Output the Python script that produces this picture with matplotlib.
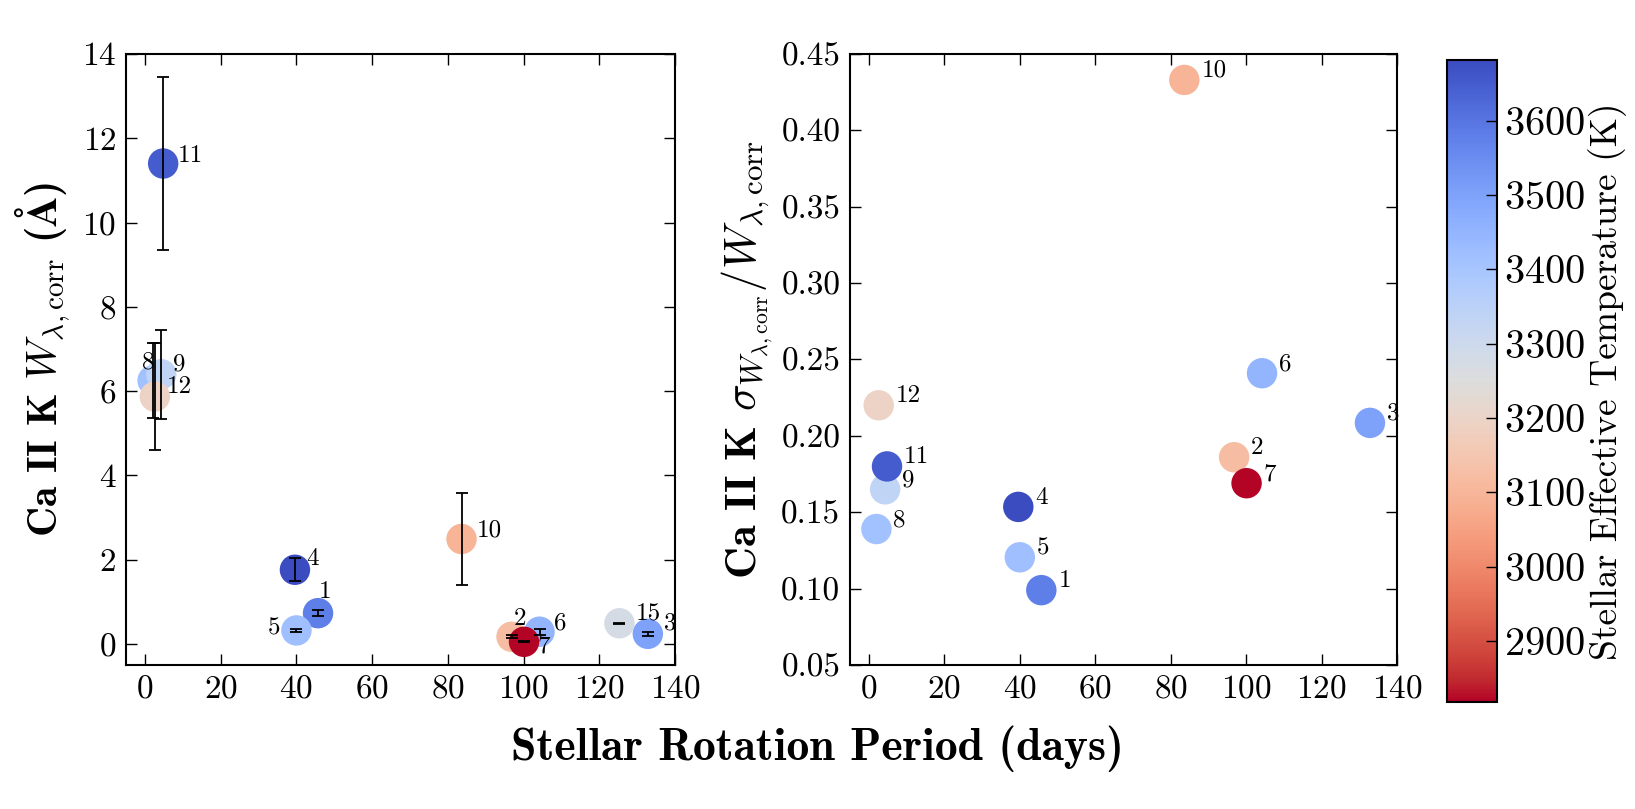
import numpy as np
import matplotlib
matplotlib.use("Agg")
import matplotlib.pyplot as plt
from matplotlib.ticker import FormatStrFormatter, MultipleLocator

plt.rcParams['font.family'] = 'serif'
plt.rcParams['font.serif'] = ['cmr10']
plt.rcParams['mathtext.fontset'] = 'cm'
plt.rcParams['axes.formatter.use_mathtext'] = True
plt.rcParams['axes.unicode_minus'] = False

# star data
star_id = ['1', '2', '3', '4', '5', '6', '7', '8', '9', '10', '11', '12', '15']
period = [45.7, 96.8, 132.8, 39.6, 40.0, 104.2, 100.1, 2.0, 4.3, 83.6, 4.8, 2.6, 125.3]
w_corr = [0.73, 0.17, 0.24, 1.76, 0.32, 0.29, 0.05, 6.25, 6.40, 2.49, 11.40, 5.87, 0.49]
w_err = [0.07, 0.03, 0.05, 0.27, 0.04, 0.07, 0.01, 0.88, 1.06, 1.08, 2.05, 1.27, 0.01]
ratio = [0.099, 0.186, 0.2085, 0.1535, 0.1205, 0.241, 0.169, 0.139, 0.165, 0.433, 0.180, 0.220, np.nan]
teff = [3580, 3120, 3500, 3682, 3420, 3450, 2818, 3415, 3335, 3095, 3650, 3195, 3276]

# label offsets in pixels (dx, dy), left panel
left_offsets = {'1': (7, 21), '2': (8, 18), '3': (22, 10), '4': (18, 11), '5': (-22, 2),
                '6': (21, 8), '7': (20, -5), '8': (-4, 18), '9': (18, 10), '10': (28, 9),
                '11': (27, 8), '12': (24, 10), '15': (29, 10)}

cmap = plt.get_cmap('coolwarm_r')
vmin, vmax = min(teff), max(teff)

fig = plt.figure(figsize=(16.35, 8.09), dpi=100)
ax1 = fig.add_axes([0.0771, 0.178, 0.3358, 0.7553])
ax2 = fig.add_axes([0.5199, 0.178, 0.3346, 0.7553])
cax = fig.add_axes([0.885, 0.1323, 0.0306, 0.7936])

# left: equivalent width with errors
sc = ax1.scatter(period, w_corr, c=teff, cmap=cmap, vmin=vmin, vmax=vmax,
                 s=480, linewidths=0, zorder=2)
ax1.errorbar(period, w_corr, yerr=w_err, fmt='none', ecolor='black',
             elinewidth=1.3, capsize=4, capthick=1.3, zorder=3)
for i, sid in enumerate(star_id):
    dx, dy = left_offsets[sid]
    ax1.annotate(sid, (period[i], w_corr[i]), xytext=(dx, dy), textcoords='offset pixels',
                 ha='center', va='center', fontsize=18, zorder=4)

ax1.set_xlim(-5, 140)
ax1.set_ylim(-0.5, 14)
ax1.xaxis.set_major_locator(MultipleLocator(20))
ax1.yaxis.set_major_locator(MultipleLocator(2))
ax1.set_ylabel(r'Ca II K $W_{\lambda,\mathrm{corr}}$ ($\mathbf{\AA}$)',
               fontsize=30, family=['cmb10', 'DejaVu Serif'], labelpad=7)

# right: fractional error
ax2.scatter(period, ratio, c=teff, cmap=cmap, vmin=vmin, vmax=vmax,
            s=480, linewidths=0, zorder=2)
for i, sid in enumerate(star_id):
    if np.isnan(ratio[i]):
        continue
    ax2.annotate(sid, (period[i], ratio[i]), xytext=(17, 9), textcoords='offset pixels',
                 ha='left', va='center', fontsize=18, zorder=4)

ax2.set_xlim(-5, 140)
ax2.set_ylim(0.05, 0.45)
ax2.xaxis.set_major_locator(MultipleLocator(20))
ax2.yaxis.set_major_locator(MultipleLocator(0.05))
ax2.yaxis.set_major_formatter(FormatStrFormatter('%.2f'))
ax2.set_ylabel(r'Ca II K $\sigma_{W_{\lambda,\mathrm{corr}}}/W_{\lambda,\mathrm{corr}}$',
               fontsize=32, family=['cmb10', 'DejaVu Serif'], labelpad=4)

for ax in (ax1, ax2):
    ax.tick_params(direction='in', top=True, right=True, length=8, width=1,
                   labelsize=24, pad=7)
    for sp in ax.spines.values():
        sp.set_linewidth(1.5)

cb = fig.colorbar(sc, cax=cax)
cb.set_ticks(np.arange(2900, 3601, 100))
cb.ax.tick_params(direction='in', length=8, width=1, labelsize=29, pad=5)
cb.outline.set_linewidth(1.5)
cb.set_label('Stellar Effective Temperature (K)', fontsize=27, labelpad=2)

fig.text(0.5, 0.0745, 'Stellar Rotation Period (days)', ha='center', va='center',
         fontsize=33, family=['cmb10', 'DejaVu Serif'])

fig.savefig('out.png', dpi=100)
